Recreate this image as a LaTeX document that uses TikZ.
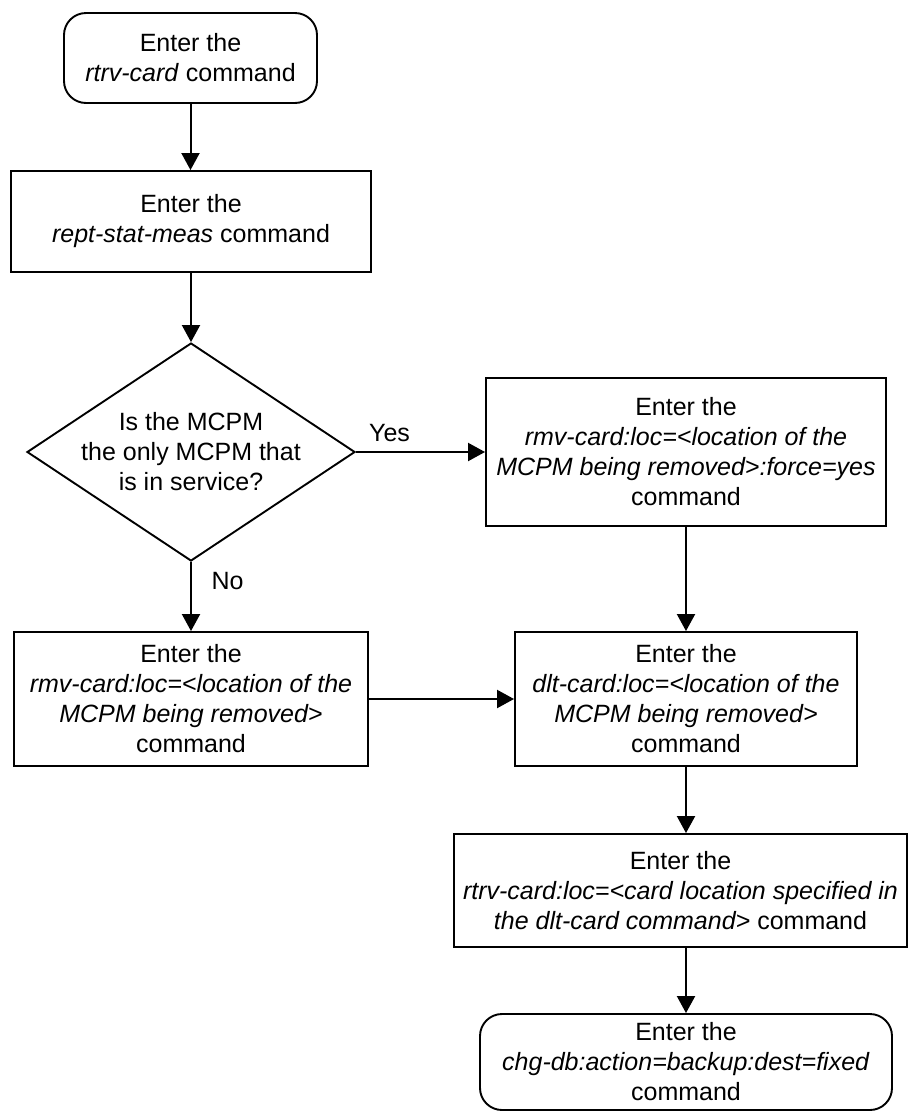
\documentclass[tikz,border=0pt]{standalone}
\usepackage{fontspec}
\setmainfont{Liberation Sans}
\usetikzlibrary{arrows.meta,shapes.geometric}
\tikzset{
  box/.style={draw, line width=1.9pt, inner sep=0pt, align=center, minimum width=#1},
  rbox/.style={box=#1, rounded corners=22pt},
  conn/.style={line width=2pt, -{Triangle[width=18pt,length=17pt]}},
  lbl/.style={inner sep=0pt},
}
\begin{document}
\begin{tikzpicture}[x=1pt,y=-1pt, font=\fontsize{25}{30}\selectfont]
\useasboundingbox (0,0) rectangle (909,1112);
\node[rbox=253pt, minimum height=90pt] (n1) at (190.5,58) {Enter the\\\textit{rtrv-card} command};
\node[box=360pt, minimum height=101pt] (n2) at (191,221.5) {Enter the\\\textit{rept-stat-meas} command};
\node[diamond, draw, line width=1.9pt, inner sep=0pt, minimum width=328pt, minimum height=218pt] (d) at (191,452) {};
\node[lbl, align=center] (dt) at (d.center) {Is the MCPM\\the only MCPM that\\is in service?};
\node[box=400pt, minimum height=148pt] (n3) at (686,452) {Enter the\\\textit{rmv-card:loc=<location of the}\\\textit{MCPM being removed>:force=yes}\\command};
\node[box=354pt, minimum height=134pt] (n4) at (191,699) {Enter the\\\textit{rmv-card:loc=<location of the}\\\textit{MCPM being removed>}\\command};
\node[box=342pt, minimum height=134pt] (n5) at (686,699) {Enter the\\\textit{dlt-card:loc=<location of the}\\\textit{MCPM being removed>}\\command};
\node[box=453pt, minimum height=113pt] (n6) at (680.5,890.5) {Enter the\\\textit{rtrv-card:loc=<card location specified in}\\\textit{the dlt-card command>} command};
\node[rbox=412pt, minimum height=96pt] (n7) at (686,1062) {Enter the\\\textit{chg-db:action=backup:dest=fixed}\\command};
\draw[conn] (n1.south) -- (n1.south |- n2.north);
\draw[conn] (n2.south -| d.north) -- (d.north);
\draw[conn] (d.east) -- node[lbl, pos=0.26, yshift=19pt] (yes) {Yes} (d.east -| n3.west);
\draw[conn] (d.south) -- node[lbl, pos=0.28, xshift=36.5pt] (no) {No} (d.south |- n4.north);
\draw[conn] (n3.south) -- (n3.south |- n5.north);
\draw[conn] (n4.east) -- (n5.west);
\draw[conn] (n5.south) -- (n5.south |- n6.north);
\draw[conn] (n5.south |- n6.south) -- (n5.south |- n7.north);
\end{tikzpicture}
\end{document}
